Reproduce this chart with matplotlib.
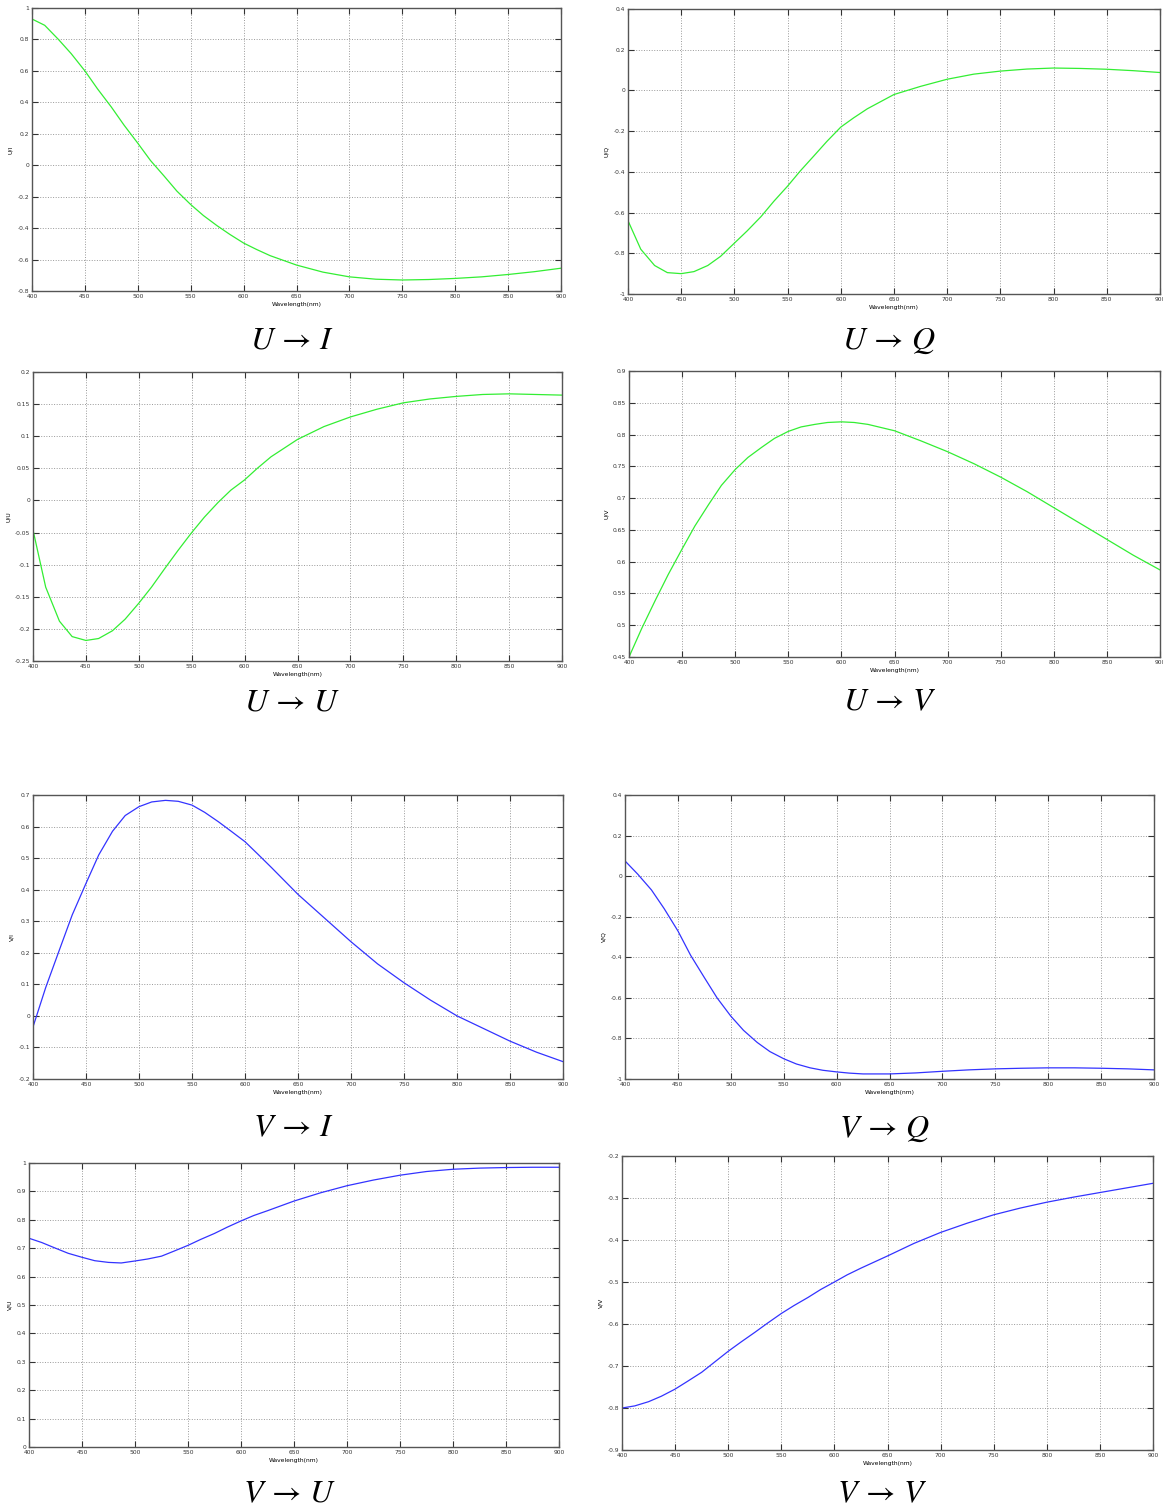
import matplotlib
matplotlib.use("Agg")
import matplotlib.pyplot as plt
import numpy as np

plt.rcParams['mathtext.fontset'] = 'stix'

# wavelength samples (nm)
wl = [400, 412, 425, 437, 450, 462, 475, 487, 500, 512, 525, 537, 550, 562, 575, 587, 600,
      612, 625, 650, 675, 700, 725, 750, 775, 800, 825, 850, 875, 900]

u_i = [0.93, 0.89, 0.80, 0.71, 0.60, 0.485, 0.37, 0.255, 0.14, 0.03, -0.07, -0.165, -0.25,
       -0.32, -0.385, -0.44, -0.495, -0.535, -0.575, -0.635,
       -0.68, -0.71, -0.725, -0.73, -0.727, -0.72, -0.71, -0.695, -0.677, -0.655]
u_q = [-0.64, -0.78, -0.86, -0.895, -0.90, -0.89, -0.86, -0.815, -0.75, -0.69, -0.62, -0.545,
       -0.47, -0.395, -0.32, -0.25, -0.18, -0.135, -0.09, -0.02,
       0.02, 0.055, 0.08, 0.095, 0.105, 0.11, 0.108, 0.104, 0.097, 0.088]
u_u = [-0.046, -0.135, -0.188, -0.212, -0.218, -0.215, -0.203, -0.185, -0.16, -0.135, -0.105,
       -0.078, -0.05, -0.026, -0.003, 0.016, 0.032, 0.05, 0.068, 0.095,
       0.115, 0.13, 0.142, 0.152, 0.158, 0.162, 0.165, 0.166, 0.165, 0.164]
u_v = [0.45, 0.495, 0.54, 0.58, 0.62, 0.656, 0.69, 0.72, 0.745, 0.764, 0.78, 0.794, 0.805,
       0.812, 0.816, 0.819, 0.82, 0.819, 0.816, 0.806,
       0.79, 0.773, 0.754, 0.733, 0.71, 0.685, 0.66, 0.635, 0.61, 0.587]
v_i = [-0.035, 0.09, 0.21, 0.32, 0.42, 0.51, 0.585, 0.635, 0.663, 0.678, 0.683, 0.68, 0.668,
       0.645, 0.615, 0.585, 0.552, 0.513, 0.47, 0.385,
       0.31, 0.235, 0.165, 0.105, 0.05, 0.0, -0.04, -0.08, -0.115, -0.145]
v_q = [0.075, 0.01, -0.068, -0.16, -0.27, -0.39, -0.5, -0.6, -0.69, -0.76, -0.82, -0.865,
       -0.90, -0.926, -0.945, -0.957, -0.965, -0.971, -0.975, -0.975,
       -0.97, -0.962, -0.955, -0.95, -0.947, -0.945, -0.945, -0.947, -0.95, -0.955]
v_u = [0.735, 0.72, 0.70, 0.682, 0.668, 0.656, 0.65, 0.648, 0.655, 0.662, 0.672, 0.69, 0.71,
       0.731, 0.752, 0.774, 0.796, 0.815, 0.832, 0.866,
       0.895, 0.92, 0.94, 0.957, 0.97, 0.978, 0.982, 0.984, 0.985, 0.985]
v_v = [-0.80, -0.795, -0.785, -0.772, -0.755, -0.736, -0.715, -0.691, -0.665, -0.643, -0.62,
       -0.598, -0.575, -0.556, -0.537, -0.518, -0.50, -0.483, -0.467, -0.438,
       -0.408, -0.382, -0.36, -0.34, -0.324, -0.31, -0.298, -0.287, -0.276, -0.265]

ylabels = ['U/I', 'U/Q', 'U/U', 'U/V', 'V/I', 'V/Q', 'V/U', 'V/V']
captions = [r'$U\,\rightarrow\,I$', r'$U\,\rightarrow\,Q$', r'$U\,\rightarrow\,U$', r'$U\,\rightarrow\,V$',
            r'$V\,\rightarrow\,I$', r'$V\,\rightarrow\,Q$', r'$V\,\rightarrow\,U$', r'$V\,\rightarrow\,V$']
series = [u_i, u_q, u_u, u_v, v_i, v_q, v_u, v_v]
ylims = [(-0.8, 1), (-1, 0.4), (-0.25, 0.2), (0.45, 0.9),
         (-0.2, 0.7), (-1, 0.4), (0, 1), (-0.9, -0.2)]
ysteps = [0.2, 0.2, 0.05, 0.05, 0.1, 0.2, 0.1, 0.1]
colors = ['#33ee33'] * 4 + ['#3333ff'] * 4

# axes boxes in pixels: left, right, top, bottom ; caption y
W, H = 1163, 1510
boxes = [(32, 561, 8, 291, 340), (628, 1160, 9, 294, 340),
         (33, 562, 372, 661, 702), (629, 1160, 371, 657, 702),
         (33, 563, 795, 1079, 1128), (625, 1154, 795, 1079, 1128),
         (29, 559, 1163, 1447, 1494), (622, 1153, 1156, 1450, 1494)]


def fmt(v, p):
    v = round(v, 3)
    if v == 0:
        return '0'
    return '%g' % v


fig = plt.figure(figsize=(W / 100, H / 100), dpi=100)

for i in range(8):
    l, r, t, b, cy = boxes[i]
    ax = fig.add_axes([l / W, 1 - b / H, (r - l) / W, (b - t) / H])
    ax.plot(wl, series[i], color=colors[i], linewidth=0.9)
    ax.set_xlim(400, 900)
    lo, hi = ylims[i]
    ax.set_ylim(lo, hi)
    ax.set_xticks(np.arange(400, 901, 50))
    ax.set_yticks(np.arange(lo, hi + ysteps[i] / 2, ysteps[i]))
    ax.yaxis.set_major_formatter(plt.FuncFormatter(fmt))
    ax.grid(True, linestyle=':', color='#999999', linewidth=0.7)
    ax.tick_params(direction='in', length=4, width=0.8, labelsize=4.3, colors='#333333',
                   top=True, right=True, pad=2)
    for s in ax.spines.values():
        s.set_color('#555555')
        s.set_linewidth(1.0)
    ax.set_xlabel('Wavelength(nm)', fontsize=4.3, labelpad=2)
    ax.set_ylabel(ylabels[i], fontsize=4.3, labelpad=3)
    fig.text((l + r) / 2 / W - 5 / W, 1 - cy / H, captions[i], fontsize=23,
             ha='center', va='center')

fig.savefig('out.png', dpi=100)
